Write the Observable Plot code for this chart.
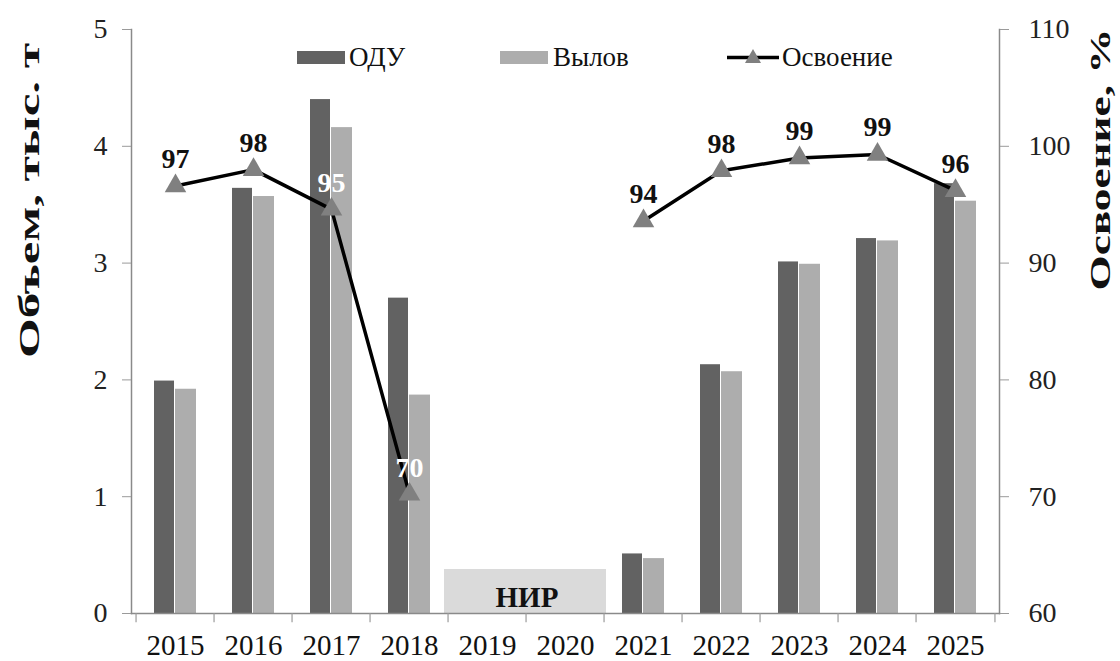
<!DOCTYPE html>
<html>
<head>
<meta charset="utf-8">
<script src="https://cdn.jsdelivr.net/npm/d3@7"></script>
<script src="https://cdn.jsdelivr.net/npm/@observablehq/plot@0.6"></script>
<style>
  html, body { margin: 0; padding: 0; background: #ffffff; }
  #wrap { position: relative; width: 1120px; height: 661px; font-family: "Liberation Serif", "Times New Roman", serif; }
  #chart { position: absolute; left: 0; top: 0; }
  #chart svg, #chart svg text { font-family: "Liberation Serif", "Times New Roman", serif !important; }
  .lg { position: absolute; height: 30px; top: 42px; display: flex; align-items: center; font-size: 27px; color: #111; white-space: nowrap; }
</style>
</head>
<body>
<div id="wrap">
  <div id="chart"></div>
  <div class="lg" style="left:297px"><svg width="50" height="30"><rect x="0" y="9" width="48" height="13" fill="#626262"/></svg><span style="margin-left:2px">ОДУ</span></div>
  <div class="lg" style="left:500px"><svg width="50" height="30"><rect x="0" y="9" width="48" height="13" fill="#adadad"/></svg><span style="margin-left:3px">Вылов</span></div>
  <div class="lg" style="left:727px"><svg width="52" height="30"><line x1="0" y1="15.5" x2="52" y2="15.5" stroke="#000" stroke-width="3.5"/><path d="M26,7 L34,21 L18,21 Z" fill="#808080"/></svg><span style="margin-left:3px">Освоение</span></div>
</div>
<script>
// ---- data ----
const years = ["2015", "2016", "2017", "2018", "2019", "2020", "2021", "2022", "2023", "2024", "2025"];
const oduValues = [1.99, 3.64, 4.40, 2.70, null, null, 0.51, 2.13, 3.01, 3.21, 3.68];   // ОДУ, тыс. т
const catchValues = [1.92, 3.57, 4.16, 1.87, null, null, 0.47, 2.07, 2.99, 3.19, 3.53]; // Вылов, тыс. т
const usePercent = [96.6, 98.0, 94.6, 70.2, null, null, 93.6, 97.9, 99.0, 99.3, 96.2]; // Освоение, %
const nirYears = ["2019", "2020"];
const nirValue = 0.38;
const nirLabel = "НИР";
const leftTicks = [0, 1, 2, 3, 4, 5];
const rightTicks = [60, 70, 80, 90, 100, 110];
const seriesNames = ["ОДУ", "Вылов", "Освоение"];
const leftTitle = "Объем, тыс. т";
const rightTitle = "Освоение, %";

// ---- derived ----
const FONT = '"Liberation Serif", "Times New Roman", serif';
const rightMin = rightTicks[0], rightMax = rightTicks[rightTicks.length - 1];
const leftMax = leftTicks[leftTicks.length - 1];
const pctToLeft = p => (p - rightMin) / (rightMax - rightMin) * leftMax;
const leftToPct = v => rightMin + v / leftMax * (rightMax - rightMin);

const rows = years.map((year, i) => ({year, odu: oduValues[i], vylov: catchValues[i], pct: usePercent[i]}));
const barRows = rows.filter(d => d.odu != null);
const pctRows = rows.filter(d => d.pct != null);
const whiteLabelYears = new Set(["2017", "2018"]);
const nirRows = nirYears.map(year => ({year, v: nirValue, label: nirLabel}));

const W = 1120, H = 661, mL = 131, mR = 121, mT = 29, mB = 48;
const half = (W - mL - mR) / years.length / 2;

const chart = Plot.plot({
  width: W, height: H,
  marginLeft: mL, marginRight: mR, marginTop: mT, marginBottom: mB,
  style: {fontFamily: FONT, background: "transparent", color: "#111", overflow: "visible"},
  x: {type: "band", domain: years, padding: 0, axis: null},
  y: {domain: [0, leftMax], axis: null},
  marks: [
    // NIR box spanning 2019–2020
    Plot.barY(nirRows.filter(d => d.year === nirYears[0]), {x: "year", y: "v", fill: "#dadada", insetLeft: -4, insetRight: 0, shapeRendering: "crispEdges"}),
    Plot.barY(nirRows.filter(d => d.year === nirYears[1]), {x: "year", y: "v", fill: "#dadada", insetLeft: 0, insetRight: -2, shapeRendering: "crispEdges"}),
    Plot.text(nirRows.slice(0, 1), {x: "year", y: d => d.v / 2, text: "label", dx: half, dy: 6, fontSize: 29, fontWeight: "bold", fill: "#111", fontFamily: FONT}),
    // bars
    Plot.barY(barRows, {x: "year", y: "odu", fill: "#626262", insetLeft: 18, insetRight: 40}),
    Plot.barY(barRows, {x: "year", y: "vylov", fill: "#adadad", insetLeft: 39, insetRight: 18}),
    // axes lines
    Plot.frame({anchor: "left", stroke: "#8a8a8a", strokeWidth: 1.5}),
    Plot.frame({anchor: "right", stroke: "#8a8a8a", strokeWidth: 1.5}),
    Plot.frame({anchor: "bottom", stroke: "#8a8a8a", strokeWidth: 1.5}),
    // x ticks at band boundaries
    Plot.ruleX(years, {x: d => d, dx: -half, y1: 0, y2: -0.08, stroke: "#9a9a9a", strokeWidth: 1.2}),
    Plot.ruleX(years.slice(-1), {x: d => d, dx: half, y1: 0, y2: -0.08, stroke: "#9a9a9a", strokeWidth: 1.2}),
    Plot.axisX({tickSize: 0, tickPadding: 21, fontSize: 29, label: null, fill: "#111", fontFamily: FONT}),
    // left axis
    Plot.axisY(leftTicks, {anchor: "left", tickSize: 9, tickPadding: 15, fontSize: 28, label: null, stroke: "#9a9a9a", fill: "#222", fontFamily: FONT, tickFormat: v => String(v)}),
    // right axis (percent)
    Plot.axisY(rightTicks.map(pctToLeft), {anchor: "right", tickSize: 9, tickPadding: 20, fontSize: 28, label: null, stroke: "#9a9a9a", fill: "#222", fontFamily: FONT, tickFormat: v => String(Math.round(leftToPct(v)))}),
    // line of освоение
    Plot.line(rows, {x: "year", y: d => d.pct == null ? NaN : pctToLeft(d.pct), stroke: "#000", strokeWidth: 3.5}),
    Plot.dot(pctRows, {x: "year", y: d => pctToLeft(d.pct), symbol: "triangle", r: 8, fill: "#808080", stroke: "none"}),
    Plot.text(pctRows.filter(d => !whiteLabelYears.has(d.year)), {x: "year", y: d => pctToLeft(d.pct), text: d => String(Math.round(d.pct)), dy: -27, fontSize: 28, fontWeight: "bold", fill: "#111", fontFamily: FONT}),
    Plot.text(pctRows.filter(d => whiteLabelYears.has(d.year)), {x: "year", y: d => pctToLeft(d.pct), text: d => String(Math.round(d.pct)), dy: -26, fontSize: 28, fontWeight: "bold", fill: "#ffffff", fontFamily: FONT}),
    // axis titles
    Plot.text([leftTitle], {frameAnchor: "top-left", text: d => d, dx: -102, dy: 171, rotate: -90, fontSize: 30, fontWeight: "bold", textAnchor: "middle", lineAnchor: "middle", fill: "#111", fontFamily: FONT, className: "ttl-left"}),
    Plot.text([rightTitle], {frameAnchor: "top-right", text: d => d, dx: 101, dy: 130, rotate: -90, fontSize: 30, fontWeight: "bold", textAnchor: "middle", lineAnchor: "middle", fill: "#111", fontFamily: FONT, className: "ttl-right"})
  ]
});
document.getElementById("chart").appendChild(chart);
d3.select(chart).selectAll(".ttl-left text").attr("textLength", 315).attr("lengthAdjust", "spacingAndGlyphs");
d3.select(chart).selectAll(".ttl-right text").attr("textLength", 262).attr("lengthAdjust", "spacingAndGlyphs");
</script>
</body>
</html>
